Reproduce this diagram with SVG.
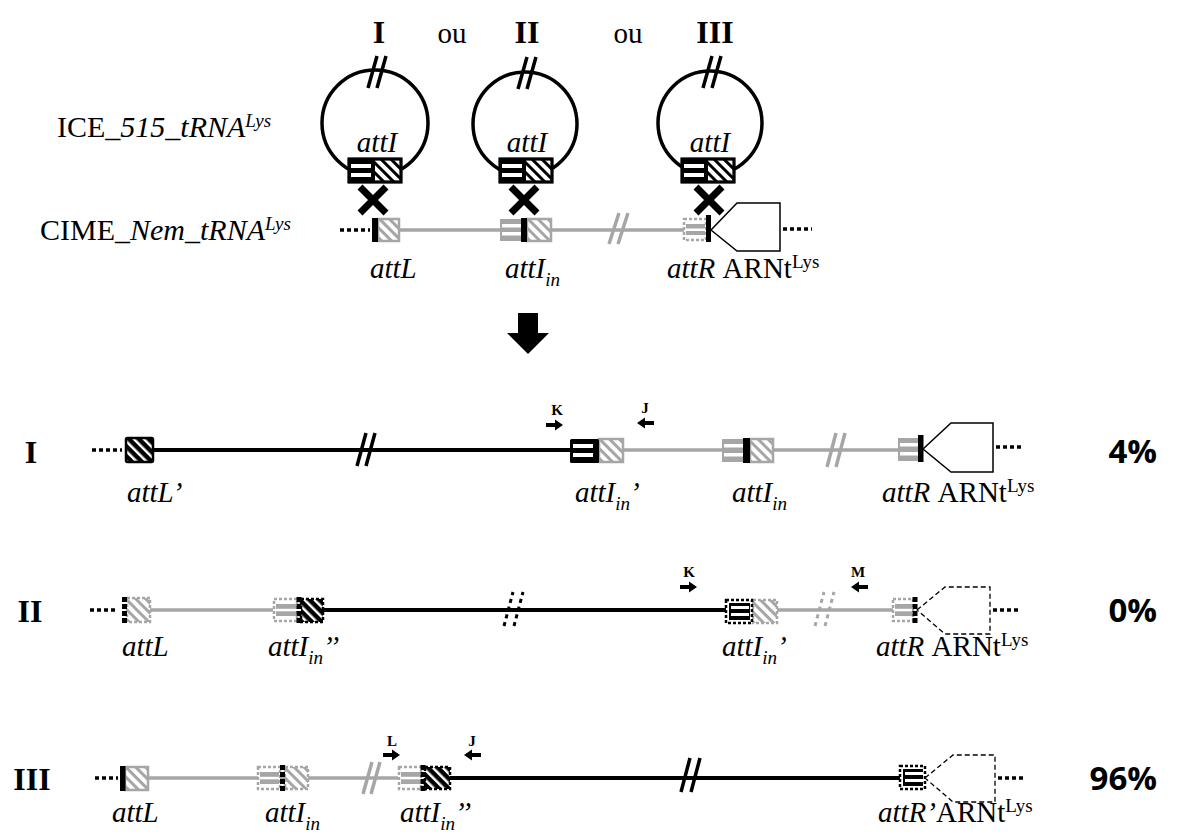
<svg xmlns="http://www.w3.org/2000/svg" xmlns:xlink="http://www.w3.org/1999/xlink" width="1179" height="834" viewBox="0 0 1179 834">
<style>
text{font-family:"Liberation Serif","Times New Roman",serif;fill:#000}
.it{font-style:italic;font-size:29px}
.rm{font-size:29px}
.big{font-size:30px}
.rn{font-weight:bold;font-size:32px;text-anchor:middle}
.pr{font-weight:bold;font-size:15px;text-anchor:middle}
.pct{font-family:"Open Sans","Liberation Sans",sans-serif;font-weight:bold;font-size:33px;text-anchor:end}
.bk{stroke:#000;stroke-width:4;fill:none}
.gr{stroke:#a6a6a6;stroke-width:3.5;fill:none}
.dot{stroke:#000;stroke-width:3.5;stroke-dasharray:4 3;fill:none}
.circ{stroke:#000;stroke-width:3.5;fill:none}
.slb{stroke:#000;stroke-width:3;fill:none}
.slg{stroke:#a6a6a6;stroke-width:3;fill:none}
.sld{stroke:#000;stroke-width:3;stroke-dasharray:4 4;fill:none}
.slgd{stroke:#a6a6a6;stroke-width:3;stroke-dasharray:4 4;fill:none}
.hB{fill:url(#hB);stroke:#000;stroke-width:2.5}
.hG{fill:url(#hG);stroke:#a6a6a6;stroke-width:2.5}
.hGd{fill:url(#hG);stroke:#a6a6a6;stroke-width:2.5;stroke-dasharray:3 2}
.hW{fill:url(#hW);stroke:#000;stroke-width:2.5}
.hWd{fill:url(#hW);stroke:#000;stroke-width:2.5;stroke-dasharray:3 2}
.sB{fill:#000}
.sG{fill:#a6a6a6}
.wht{fill:#fff}
.outGd{fill:#fff;stroke:#a6a6a6;stroke-width:2.5;stroke-dasharray:3 2}
.outBd{fill:#fff;stroke:#000;stroke-width:2.5;stroke-dasharray:3 2}
.barD{stroke:#000;stroke-width:5;stroke-dasharray:5 2;fill:none}
.tr{fill:#fff;stroke:#000;stroke-width:1.5}
.trd{fill:#fff;stroke:#000;stroke-width:1.3;stroke-dasharray:5 3}
.xm{stroke:#000;stroke-width:7;fill:none}
</style>
<defs>
<pattern id="hB" width="7" height="7" patternUnits="userSpaceOnUse" patternTransform="rotate(-45)"><rect width="7" height="7" fill="#fff"/><rect width="3" height="7" fill="#000"/></pattern>
<pattern id="hG" width="7" height="7" patternUnits="userSpaceOnUse" patternTransform="rotate(-45)"><rect width="7" height="7" fill="#fff"/><rect width="3" height="7" fill="#a6a6a6"/></pattern>
<pattern id="hW" width="7" height="7" patternUnits="userSpaceOnUse" patternTransform="rotate(-45)"><rect width="7" height="7" fill="#000"/><rect width="2.5" height="7" fill="#fff"/></pattern>
<path id="pa" d="M0,-2 H9 V-5.5 L17,0 L9,5.5 V2 H0 Z" fill="#000"/>
<g id="attI">
<rect x="0" y="0" width="52" height="23" class="hB"/>
<rect x="-1" y="-1" width="27" height="25" class="sB"/>
<rect x="2" y="5" width="20" height="4" class="wht"/>
<rect x="2" y="14" width="20" height="4" class="wht"/>
<rect x="0" y="0" width="52" height="23" class="slb"/>
</g>
</defs>

<!-- top labels -->
<g id="labels-top">
<text class="rn" x="379" y="43">I</text>
<text class="rm" x="452" y="43" text-anchor="middle">ou</text>
<text class="rn" x="527" y="43">II</text>
<text class="rm" x="628" y="43" text-anchor="middle">ou</text>
<text class="rn" x="715" y="43">III</text>
<text class="big" x="57" y="137">ICE_<tspan font-style="italic">515_tRNA</tspan><tspan font-style="italic" font-size="19" dy="-10">Lys</tspan></text>
<text class="big" x="40" y="240">CIME_<tspan font-style="italic">Nem_tRNA</tspan><tspan font-style="italic" font-size="19" dy="-10">Lys</tspan></text>
</g>

<!-- circular ICEs -->
<g id="ice-I">
<circle cx="375" cy="123" r="53" class="circ"/>
<path d="M368,88 L377,56 M377,88 L386,56" class="circ"/>
<text class="it" x="377" y="152" text-anchor="middle">attI</text>
<use xlink:href="#attI" x="349" y="159"/>
<path d="M360,187 L386,213 M386,187 L360,213" class="xm"/>
</g>
<g id="ice-II">
<circle cx="525" cy="124" r="52" class="circ"/>
<path d="M518,89 L527,57 M527,89 L536,57" class="circ"/>
<text class="it" x="527" y="152" text-anchor="middle">attI</text>
<use xlink:href="#attI" x="500" y="159"/>
<path d="M511,187 L537,213 M537,187 L511,213" class="xm"/>
</g>
<g id="ice-III">
<circle cx="710" cy="123" r="52" class="circ"/>
<path d="M703,88 L712,56 M712,88 L721,56" class="circ"/>
<text class="it" x="710" y="152" text-anchor="middle">attI</text>
<use xlink:href="#attI" x="682" y="159"/>
<path d="M696,187 L722,213 M722,187 L696,213" class="xm"/>
</g>

<!-- top chromosome -->
<g id="chrom-top">
<path d="M340,230 H370" class="dot"/>
<path d="M378,230 H707" class="gr"/>
<path d="M609,244 L619,213 M618,244 L628,213" class="gr"/>
<rect x="378" y="219" width="21" height="22" class="hG"/>
<rect x="372" y="218" width="6" height="24" class="sB"/>
<rect x="500" y="219" width="23" height="22" class="sG"/>
<rect x="502" y="224" width="19" height="3.5" class="wht"/>
<rect x="502" y="232" width="19" height="3.5" class="wht"/>
<rect x="527" y="219" width="24" height="22" class="hG"/>
<rect x="521" y="218" width="6" height="24" class="sB"/>
<rect x="684" y="219" width="22" height="21" class="outGd"/>
<rect x="686" y="224" width="19" height="11" class="sG"/>
<rect x="686" y="228.5" width="19" height="2.5" class="wht"/>
<rect x="706" y="215" width="5" height="27" class="sB"/>
<polygon points="711,230 737,203 780,203 780,251 737,251" class="tr"/>
<path d="M783,229 H812" class="dot"/>
<text class="it" x="370" y="278">attL</text>
<text class="it" x="505" y="278">attI<tspan font-size="19" dy="8">in</tspan></text>
<text class="it" x="667" y="278">attR <tspan font-style="normal">ARNt</tspan><tspan font-style="normal" font-size="19" dy="-10">Lys</tspan></text>
</g>

<!-- big arrow -->
<g id="big-arrow">
<path d="M518,313 H538 V333 H549 L528,354 L507,333 H518 Z" fill="#000"/>
</g>

<!-- row I -->
<g id="row-I">
<text class="rn" x="31" y="463">I</text>
<path d="M92,450 H122" class="dot"/>
<path d="M153,450 H572" class="bk"/>
<path d="M357,466 L366,433 M366,466 L375,433" class="bk" style="stroke-width:3.5"/>
<rect x="126" y="438" width="27" height="24" class="hW" rx="1.5"/>
<path d="M623,450 H898" class="gr"/>
<path d="M827,467 L836,433 M836,467 L845,433" class="gr"/>
<rect x="599" y="439" width="24" height="23" class="hG"/>
<rect x="570" y="439" width="29" height="24" class="sB" rx="1.5"/>
<rect x="573" y="444" width="20" height="4" class="wht"/>
<rect x="573" y="453" width="20" height="4" class="wht"/>
<rect x="722" y="439" width="22" height="23" class="sG"/>
<rect x="724" y="444" width="19" height="3.5" class="wht"/>
<rect x="724" y="453" width="19" height="3.5" class="wht"/>
<rect x="750" y="439" width="23" height="23" class="hG"/>
<rect x="743" y="438" width="7" height="25" class="sB"/>
<rect x="898" y="438" width="21" height="23" class="sG"/>
<rect x="900" y="443" width="18" height="3.5" class="wht"/>
<rect x="900" y="452" width="18" height="3.5" class="wht"/>
<rect x="918" y="435" width="5.5" height="27" class="sB"/>
<polygon points="923,449 951,423 993,423 993,472 951,472" class="tr"/>
<path d="M996,447 H1022" class="dot"/>
<text class="pr" x="557" y="415">K</text>
<use xlink:href="#pa" transform="translate(546,425)"/>
<text class="pr" x="645" y="413">J</text>
<use xlink:href="#pa" transform="translate(654,423) scale(-1,1)"/>
<text class="it" x="127" y="502">attL’</text>
<text class="it" x="575" y="502">attI<tspan font-size="19" dy="8">in</tspan><tspan dy="-8">’</tspan></text>
<text class="it" x="732" y="502">attI<tspan font-size="19" dy="8">in</tspan></text>
<text class="it" x="882" y="502">attR <tspan font-style="normal">ARNt</tspan><tspan font-style="normal" font-size="19" dy="-10">Lys</tspan></text>
<text class="pct" x="1157" y="463">4%</text>
</g>

<!-- row II -->
<g id="row-II">
<text class="rn" x="30" y="622">II</text>
<path d="M90,610 H118" class="dot"/>
<path d="M150,610 H273" class="gr"/>
<rect x="127" y="598" width="23" height="24" class="hGd"/>
<path d="M124.5,597 V623" class="barD"/>
<rect x="274" y="599" width="23" height="22" class="outGd"/>
<rect x="276" y="604" width="20" height="12" class="sG"/>
<rect x="276" y="608.8" width="20" height="2.5" class="wht"/>
<rect x="301" y="599" width="22" height="23" class="hWd"/>
<path d="M299,597 V623" class="barD"/>
<path d="M323,610 H727" class="bk"/>
<path d="M504,626 L513,592 M514,626 L523,592" class="sld"/>
<path d="M777,610 H893" class="gr"/>
<path d="M815,626 L824,592 M825,626 L834,592" class="slgd"/>
<rect x="753" y="600" width="24" height="23" class="hGd"/>
<rect x="726" y="600" width="26" height="23" class="outBd"/>
<rect x="729" y="603" width="21" height="17" class="sB"/>
<rect x="731" y="606" width="18" height="3" class="wht"/>
<rect x="731" y="613" width="18" height="3" class="wht"/>
<rect x="893" y="599" width="20" height="22" class="outGd"/>
<rect x="895" y="604" width="17" height="12" class="sG"/>
<rect x="895" y="608.8" width="17" height="2.5" class="wht"/>
<path d="M915,597 V623" class="barD"/>
<polygon points="917,610 945,587 990,587 990,634 945,634" class="trd"/>
<path d="M993,610 H1020" class="dot"/>
<text class="pr" x="689" y="577">K</text>
<use xlink:href="#pa" transform="translate(680,587)"/>
<text class="pr" x="858" y="577">M</text>
<use xlink:href="#pa" transform="translate(868,587) scale(-1,1)"/>
<text class="it" x="122" y="656">attL</text>
<text class="it" x="268" y="656">attI<tspan font-size="19" dy="8">in</tspan><tspan dy="-8">’’</tspan></text>
<text class="it" x="722" y="656">attI<tspan font-size="19" dy="8">in</tspan><tspan dy="-8">’</tspan></text>
<text class="it" x="876" y="656">attR <tspan font-style="normal">ARNt</tspan><tspan font-style="normal" font-size="19" dy="-10">Lys</tspan></text>
<text class="pct" x="1157" y="622">0%</text>
</g>

<!-- row III -->
<g id="row-III">
<text class="rn" x="32" y="790">III</text>
<path d="M95,778 H118" class="dot"/>
<path d="M148,778 H398" class="gr"/>
<path d="M363,794 L372,762 M371,794 L380,762" class="gr"/>
<rect x="125" y="767" width="23" height="23" class="hG"/>
<rect x="120" y="766" width="5.5" height="25" class="sB"/>
<rect x="258" y="767" width="22" height="22" class="outGd"/>
<rect x="260" y="772" width="19" height="12" class="sG"/>
<rect x="260" y="776.8" width="19" height="2.5" class="wht"/>
<rect x="285" y="767" width="23" height="22" class="hGd"/>
<path d="M282.5,765 V791" class="barD"/>
<rect x="399" y="767" width="22" height="22" class="outGd"/>
<rect x="401" y="772" width="19" height="12" class="sG"/>
<rect x="401" y="776.8" width="19" height="2.5" class="wht"/>
<rect x="425" y="767" width="25" height="22" class="hWd"/>
<path d="M423,765 V791" class="barD"/>
<path d="M450,778 H900" class="bk"/>
<path d="M681,792 L690,758 M691,792 L700,758" class="bk" style="stroke-width:3.5"/>
<rect x="900" y="766" width="25" height="23" class="outBd"/>
<rect x="903" y="769" width="20" height="17" class="sB"/>
<rect x="905" y="772" width="18" height="3" class="wht"/>
<rect x="905" y="779" width="18" height="3" class="wht"/>
<polygon points="925,778 953,755 995,755 995,802 953,802" class="trd"/>
<path d="M998,778 H1025" class="dot"/>
<text class="pr" x="392" y="746">L</text>
<use xlink:href="#pa" transform="translate(383,755)"/>
<text class="pr" x="472" y="746">J</text>
<use xlink:href="#pa" transform="translate(481,755) scale(-1,1)"/>
<text class="it" x="112" y="822">attL</text>
<text class="it" x="265" y="822">attI<tspan font-size="19" dy="8">in</tspan></text>
<text class="it" x="400" y="822">attI<tspan font-size="19" dy="8">in</tspan><tspan dy="-8">’’</tspan></text>
<text class="it" x="878" y="822">attR’<tspan font-style="normal">ARNt</tspan><tspan font-style="normal" font-size="19" dy="-10">Lys</tspan></text>
<text class="pct" x="1157" y="790">96%</text>
</g>
</svg>
